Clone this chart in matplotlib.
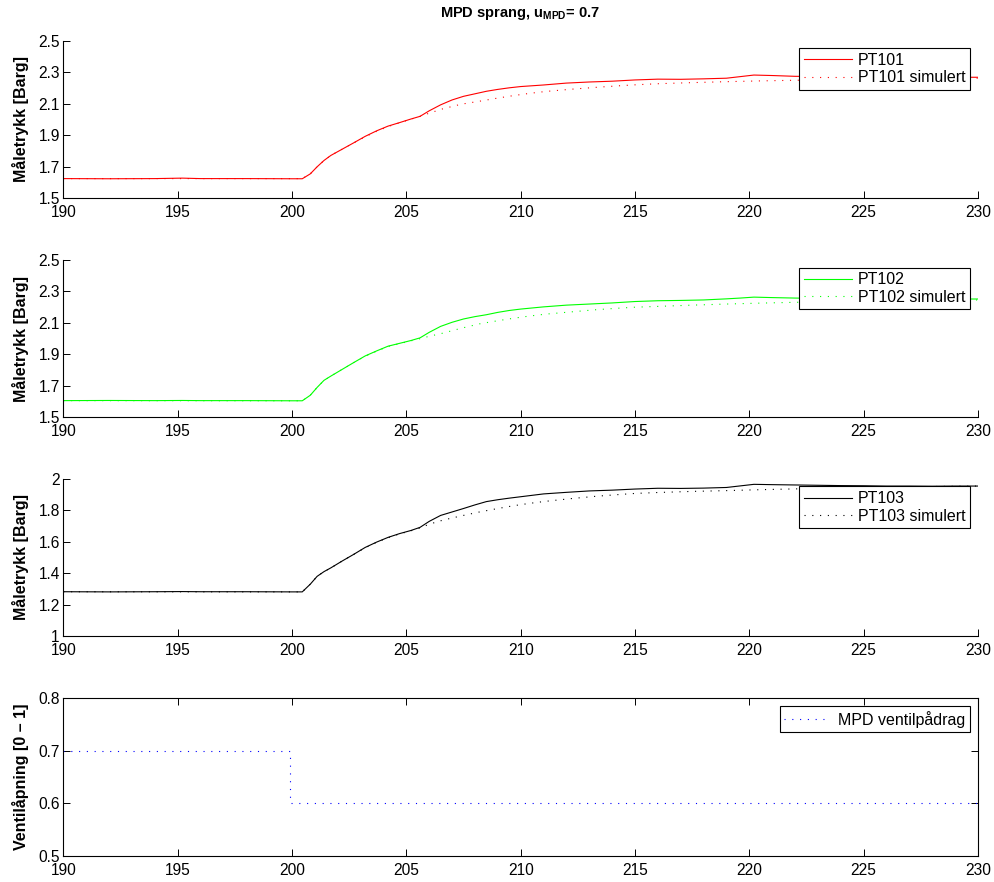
import matplotlib
matplotlib.use("Agg")
import matplotlib.pyplot as plt

plt.rcParams['font.family'] = ['Liberation Sans', 'DejaVu Sans']
plt.rcParams['mathtext.fontset'] = 'custom'
plt.rcParams['mathtext.rm'] = 'Liberation Sans'
plt.rcParams['mathtext.bf'] = 'Liberation Sans:bold'

# ---------------- data ----------------
t_meas = [190.0, 192.0, 194.0, 195.2, 196.0, 198.0, 200.0, 200.45,
          200.8, 201.1, 201.4, 201.7, 202.2, 202.7, 203.2, 203.7,
          204.2, 204.7, 205.2, 205.6, 206.0, 206.5, 207.0, 207.5,
          208.0, 208.5, 209.0, 209.5, 210.0, 211.0, 212.0, 213.0,
          214.0, 215.0, 216.0, 217.0, 218.0, 219.0, 219.6, 220.2,
          221.0, 222.0, 223.0, 224.0, 225.0, 226.0, 227.0, 228.0,
          229.0, 230.0]

pt101 = [1.625, 1.624, 1.625, 1.628, 1.625, 1.625, 1.624, 1.624,
         1.655, 1.700, 1.740, 1.772, 1.812, 1.852, 1.893, 1.928,
         1.958, 1.980, 2.003, 2.020, 2.055, 2.093, 2.124, 2.147,
         2.163, 2.179, 2.191, 2.201, 2.209, 2.219, 2.231, 2.238,
         2.243, 2.251, 2.256, 2.255, 2.258, 2.262, 2.272, 2.282,
         2.279, 2.274, 2.273, 2.270, 2.270, 2.268, 2.269, 2.267,
         2.268, 2.268]

pt102 = [1.606, 1.607, 1.606, 1.607, 1.606, 1.606, 1.605, 1.605,
         1.640, 1.690, 1.735, 1.762, 1.805, 1.848, 1.890, 1.922,
         1.952, 1.970, 1.988, 2.005, 2.040, 2.078, 2.104, 2.125,
         2.140, 2.152, 2.167, 2.179, 2.188, 2.202, 2.213, 2.220,
         2.227, 2.236, 2.241, 2.243, 2.246, 2.253, 2.258, 2.264,
         2.261, 2.258, 2.256, 2.255, 2.254, 2.253, 2.253, 2.252,
         2.252, 2.252]

pt103 = [1.282, 1.281, 1.282, 1.283, 1.282, 1.282, 1.281, 1.281,
         1.330, 1.380, 1.410, 1.434, 1.478, 1.520, 1.564, 1.598,
         1.628, 1.652, 1.672, 1.692, 1.730, 1.768, 1.790, 1.812,
         1.835, 1.856, 1.868, 1.878, 1.887, 1.905, 1.915, 1.924,
         1.929, 1.936, 1.941, 1.940, 1.942, 1.946, 1.956, 1.966,
         1.964, 1.962, 1.960, 1.958, 1.957, 1.955, 1.955, 1.954,
         1.955, 1.955]

t_sim = [190.0, 200.45, 200.8, 201.1, 201.4, 201.7, 202.2, 202.7,
         203.2, 203.7, 204.2, 204.7, 205.2, 205.6, 206.0, 206.6,
         207.4, 208.2, 209.0, 209.7, 210.4, 211.1, 212.2, 213.3,
         214.2, 215.0, 216.0, 217.5, 219.0, 220.5, 222.0, 224.0,
         226.0, 228.0, 230.0]

pt101_sim = [1.625, 1.625, 1.655, 1.700, 1.740, 1.772, 1.812, 1.852,
             1.890, 1.925, 1.955, 1.979, 2.002, 2.020, 2.040, 2.068,
             2.097, 2.116, 2.136, 2.152, 2.166, 2.178, 2.192, 2.204,
             2.213, 2.220, 2.227, 2.234, 2.240, 2.245, 2.249, 2.253,
             2.257, 2.260, 2.262]

pt102_sim = [1.606, 1.605, 1.640, 1.690, 1.735, 1.762, 1.805, 1.848,
             1.888, 1.920, 1.950, 1.968, 1.986, 2.000, 2.015, 2.035,
             2.066, 2.094, 2.114, 2.130, 2.144, 2.156, 2.170, 2.184,
             2.193, 2.200, 2.205, 2.213, 2.220, 2.226, 2.231, 2.236,
             2.240, 2.243, 2.246]

pt103_sim = [1.282, 1.281, 1.330, 1.380, 1.410, 1.434, 1.478, 1.520,
             1.562, 1.596, 1.626, 1.650, 1.670, 1.688, 1.712, 1.738,
             1.765, 1.790, 1.812, 1.830, 1.845, 1.858, 1.875, 1.890,
             1.900, 1.908, 1.914, 1.921, 1.926, 1.932, 1.937, 1.943,
             1.948, 1.952, 1.955]

t_valve = [190.0, 199.9, 230.0]
u_valve = [0.7, 0.6, 0.6]

x_ticks = [190, 195, 200, 205, 210, 215, 220, 225, 230]
p_ticks = [1.5, 1.7, 1.9, 2.1, 2.3, 2.5]
p3_ticks = [1.0, 1.2, 1.4, 1.6, 1.8, 2.0]
u_ticks = [0.5, 0.6, 0.7, 0.8]

title = r'MPD sprang, u$_{\mathbf{MPD}}$= 0.7'
ylab_p = 'Måletrykk [Barg]'
ylab_u = 'Ventilåpning [0 – 1]'

# ---------------- figure ----------------
W, H = 995, 882
fig = plt.figure(figsize=(W / 100, H / 100), dpi=100)

def frac(top, bottom, left=63.3, right=978.0):
    return [left / W, 1 - bottom / H, (right - left) / W, (bottom - top) / H]

rects = [frac(40.7, 198.3), frac(260.0, 417.3), frac(479.0, 636.0), frac(698.3, 855.7)]
axes = [fig.add_axes(r) for r in rects]

dot = (0, (1, 6))
lw = 0.8

def style(ax, box):
    ax.set_xlim(190, 230)
    ax.set_xticks(x_ticks)
    ax.tick_params(direction='in', length=5, width=0.7, labelsize=11.2,
                   top=box, right=box)
    ax.tick_params(axis='x', pad=5)
    ax.tick_params(axis='y', pad=2.5)
    for s in ['left', 'bottom', 'top', 'right']:
        ax.spines[s].set_linewidth(0.8)
    if not box:
        ax.spines['top'].set_visible(False)
        ax.spines['right'].set_visible(False)
    ax.yaxis.set_label_coords(-0.0375, 0.5)

def legend(ax, hl, tp):
    lg = ax.legend(loc='upper right', bbox_to_anchor=(1 - 8 / 915, 1 - 7.5 / 157),
                   borderaxespad=0, fancybox=False, framealpha=1, edgecolor='black',
                   fontsize=11.5, handlelength=hl, handletextpad=tp,
                   borderpad=0.3, labelspacing=0.15)
    lg.get_frame().set_linewidth(0.8)

series = [(pt101, pt101_sim, '#ff0000', 'PT101', p_ticks, (1.5, 2.5)),
          (pt102, pt102_sim, '#00ff00', 'PT102', p_ticks, (1.5, 2.5)),
          (pt103, pt103_sim, 'black', 'PT103', p3_ticks, (1.0, 2.0))]

for ax, (meas, sim, col, name, yt, yl) in zip(axes[:3], series):
    ax.plot(t_meas, meas, color=col, lw=lw, label=name)
    ax.plot(t_sim, sim, color=col, lw=lw, linestyle=dot, label=name + ' simulert')
    ax.set_ylim(*yl)
    ax.set_yticks(yt)
    ax.set_yticklabels([('%g' % v) for v in yt])
    style(ax, False)
    ax.set_ylabel(ylab_p, fontsize=11.5, fontweight='bold')
    legend(ax, 3.0, 0.35)

ax = axes[3]
ax.plot(t_valve, u_valve, color='#0000ff', lw=lw, linestyle=dot,
        drawstyle='steps-post', label='MPD ventilpådrag')
ax.set_ylim(0.5, 0.8)
ax.set_yticks(u_ticks)
style(ax, True)
ax.set_ylabel(ylab_u, fontsize=11.5, fontweight='bold')
legend(ax, 2.8, 0.55)

fig.text(520 / W, 1 - 14 / H, title, ha='center', va='center',
         fontsize=10.5, fontweight='bold')

fig.savefig('out.png', dpi=100)
